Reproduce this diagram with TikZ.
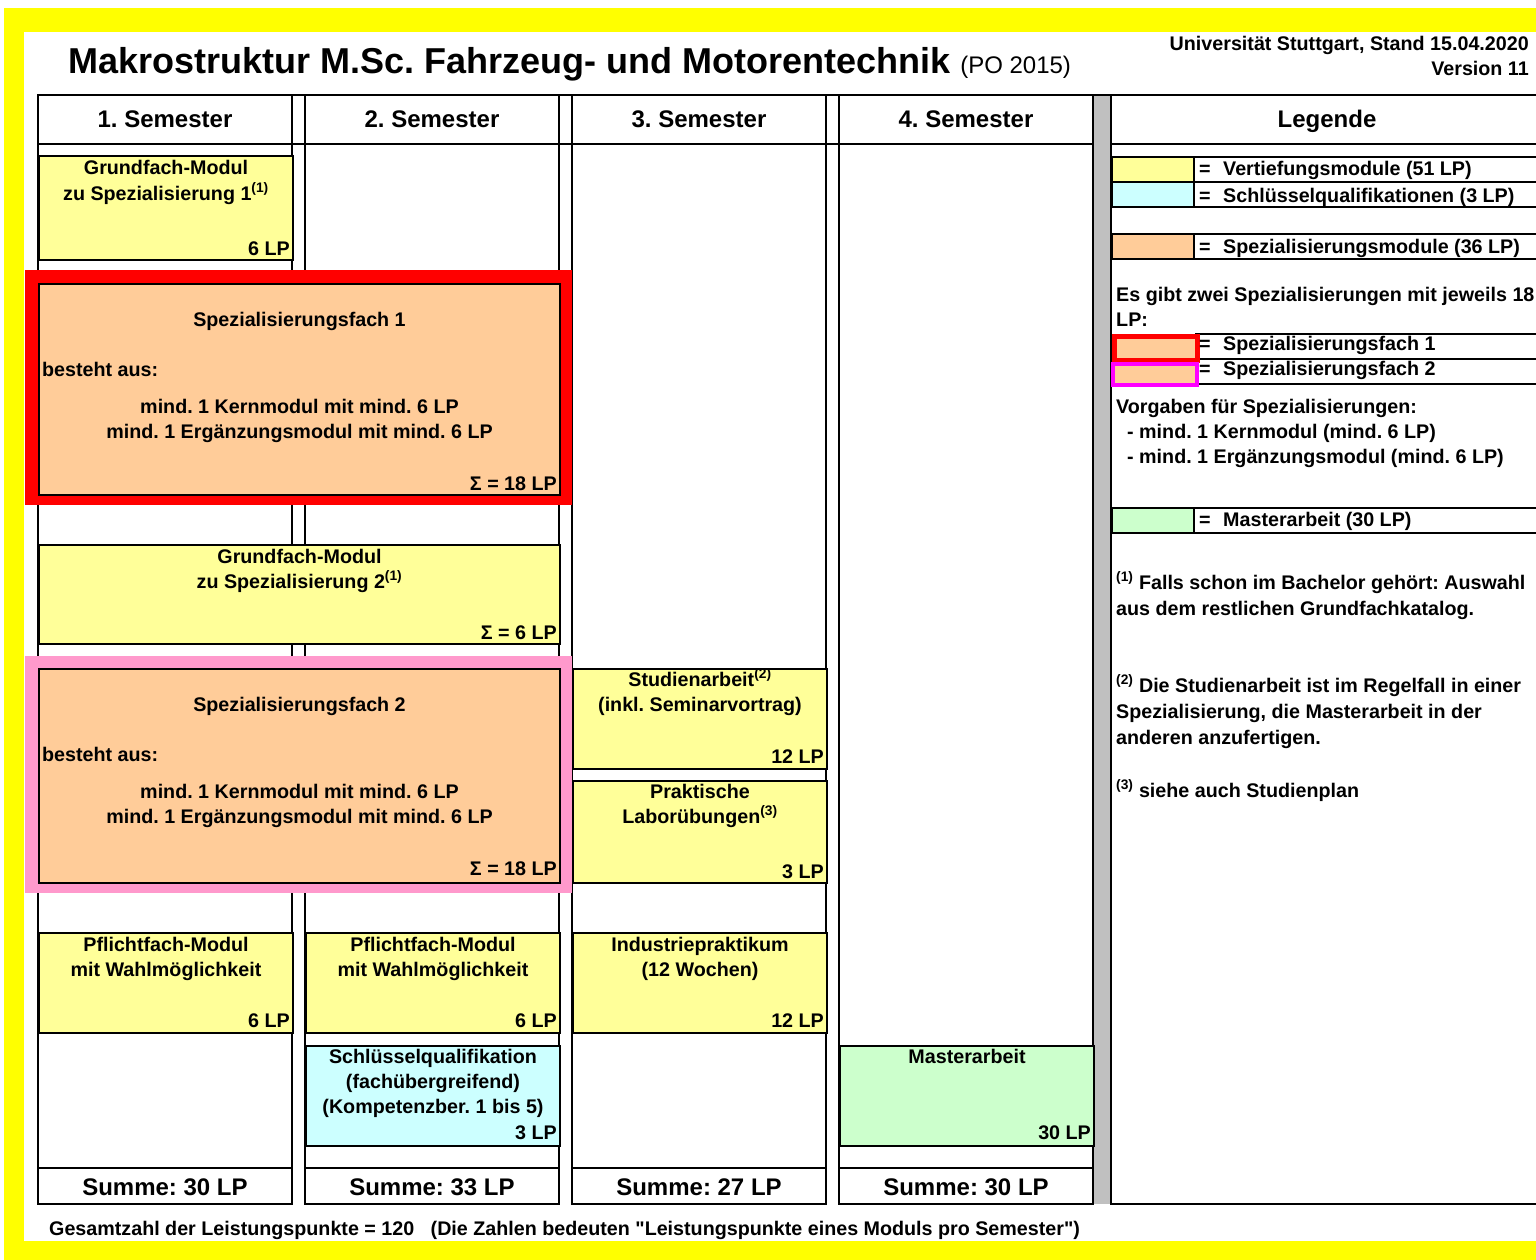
\documentclass[tikz,border=0pt]{standalone}
\usepackage{fontspec}
\setmainfont{Liberation Sans}
\usetikzlibrary{positioning}

\definecolor{frameyellow}{HTML}{FFFF00}
\definecolor{vmodcol}{HTML}{FFFF99}
\definecolor{smodcol}{HTML}{FFCC99}
\definecolor{sqcol}{HTML}{CCFFFF}
\definecolor{macol}{HTML}{CCFFCC}
\definecolor{sfonecol}{HTML}{FF0000}
\definecolor{sftwocol}{HTML}{FF99CC}
\definecolor{sftwoleg}{HTML}{FF00FF}
\definecolor{barcol}{HTML}{C0C0C0}

\frenchspacing
\newcommand{\fn}[1]{\textsuperscript{(#1)}}
% multi-line text, baseline on the first line
\newcommand{\clines}[1]{\begin{tabular}[t]{@{}c@{}}#1\end{tabular}}
\newcommand{\llines}[1]{\begin{tabular}[t]{@{}l@{}}#1\end{tabular}}

\tikzset{
    txt/.style={font=\fontsize{19.7}{25}\selectfont\bfseries, inner sep=0pt},
    head/.style={font=\fontsize{24}{28}\selectfont\bfseries, inner sep=0pt, anchor=base},
    mod/.style={draw, line width=2pt, inner sep=0pt, anchor=north west, minimum width=254, minimum height=100},
    vmod/.style={mod, fill=vmodcol},
    smod/.style={mod, fill=smodcol, minimum width=521},
    modname/.style={txt, anchor=base},
    modlp/.style={txt, anchor=base east},
    legtxt/.style={txt, anchor=base west},
    fntxt/.style={legtxt, font=\fontsize{19.7}{26}\selectfont\bfseries},
    legrow/.style={draw, line width=2pt, inner sep=0pt, anchor=north west, minimum width=400, minimum height=25},
    swatch/.style={draw, line width=2pt, inner sep=0pt, anchor=north west, minimum width=82, minimum height=25},
    hline/.style={line width=2pt},
}

\begin{document}
\begin{tikzpicture}[x=1pt, y=-1pt]
    \useasboundingbox (0,0) rectangle (1536,1260);

    % Frame
    \fill[frameyellow] (4,8) rectangle (1536,32);
    \fill[frameyellow] (4,8) rectangle (24,1260);
    \fill[frameyellow] (4,1241) rectangle (1536,1260);

    % Title
    \node[anchor=base west, inner sep=0pt] (title) at (68,74)
        {\fontsize{36}{40}\selectfont\bfseries Makrostruktur M.Sc. Fahrzeug- und Motorentechnik {\fontsize{24}{28}\selectfont\mdseries(PO 2015)}};
    \node[txt, anchor=base east] (stand)   at (1529,51) {Universität Stuttgart, Stand 15.04.2020};
    \node[txt, anchor=base east] (version) at (1529,76) {Version 11};

    % Semester columns
    \draw[hline] (38,95) -- (1536,95);
    \draw[hline] (38,144) -- (1536,144);
    \foreach \n/\x/\s in {1/38/30, 2/305/33, 3/572/27, 4/839/30} {
        \draw[hline] (\x,95) rectangle ++(254,1109);
        \draw[hline] (\x,1168) -- ++(254,0);
        \node[head] (sem\n) at (\x+127,128)  {\n. Semester};
        \node[head] (sum\n) at (\x+127,1195) {Summe: \s\ LP};
    }

    % Legend column
    \fill[barcol] (1093,96) rectangle (1111,1204);
    \draw[hline] (1093,95) -- (1093,1204);
    \draw[hline] (1111,95) -- (1111,1204) -- (1536,1204);
    \node[head] (legende) at (1327,128) {Legende};

    % Legend entries
    \node[legrow] (rowv)  at (1193,156) {};
    \node[legrow] (rowsq) at (1193,181) {};
    \node[legrow] (rows)  at (1193,233) {};
    \node[legrow] (rowsf1) at (1195,333) {};
    \node[legrow] (rowsf2) at (1195,358) {};
    \node[legrow] (rowma) at (1193,507) {};
    \node[swatch, fill=vmodcol] (swv)  at (1111,156) {};
    \node[swatch, fill=sqcol]   (swsq) at (1111,181) {};
    \node[swatch, fill=smodcol] (sws)  at (1111,233) {};
    \node[swatch, fill=smodcol, draw=sfonecol, line width=5pt, minimum width=83, minimum height=24] (swsf1) at (1111.5,333.5) {};
    \node[swatch, fill=smodcol, draw=sftwoleg, line width=4pt, minimum width=84, minimum height=21] (swsf2) at (1111,362) {};
    \node[swatch, fill=macol]   (swma) at (1111,507) {};
    \node[legtxt] (legv)   at (1199,176) {\makebox[24pt][l]{=}Vertiefungsmodule (51 LP)};
    \node[legtxt] (legsq)  at (1199,203) {\makebox[24pt][l]{=}Schlüsselqualifikationen (3 LP)};
    \node[legtxt] (legs)   at (1199,253) {\makebox[24pt][l]{=}Spezialisierungsmodule (36 LP)};
    \node[legtxt] (legsf1) at (1199,350) {\makebox[24pt][l]{=}Spezialisierungsfach 1};
    \node[legtxt] (legsf2) at (1199,375) {\makebox[24pt][l]{=}Spezialisierungsfach 2};
    \node[legtxt] (legma)  at (1199,526) {\makebox[24pt][l]{=}Masterarbeit (30 LP)};
    \node[legtxt] (zwei)   at (1116,301) {\llines{Es gibt zwei Spezialisierungen mit jeweils 18\\LP:}};
    \node[legtxt] (vorgaben) at (1116,413)
        {\llines{Vorgaben für Spezialisierungen:\\\hspace*{11pt}- mind. 1 Kernmodul (mind. 6 LP)\\\hspace*{11pt}- mind. 1 Ergänzungsmodul (mind. 6 LP)}};
    \node[fntxt] (fn1) at (1116,589)
        {\llines{\fn{1} Falls schon im Bachelor gehört: Auswahl\\aus dem restlichen Grundfachkatalog.}};
    \node[fntxt] (fn2) at (1116,692)
        {\llines{\fn{2} Die Studienarbeit ist im Regelfall in einer\\Spezialisierung, die Masterarbeit in der\\anderen anzufertigen.}};
    \node[fntxt] (fn3) at (1116,797) {\fn{3} siehe auch Studienplan};

    % Modules, semester 1 and 2
    \node[vmod, minimum height=104] (gm1) at (38,155) {};
    \node[modname] (gm1name) at ([yshift=-20pt]gm1.north) {\clines{Grundfach-Modul\\zu Spezialisierung 1\fn{1}}};
    \node[modlp]   (gm1lp)   at ([xshift=-4pt,yshift=6pt]gm1.south east) {6 LP};

    \node[fill=sfonecol, inner sep=0pt, anchor=north west, minimum width=547, minimum height=235] (sf1frame) at (25,270) {};
    \node[smod, minimum height=211] (sf1) at (38,283) {};
    \node[modname] (sf1name) at ([yshift=-43pt]sf1.north) {Spezialisierungsfach 1};
    \node[txt, anchor=base west] (sf1aus) at ([xshift=4pt,yshift=-93pt]sf1.north west) {besteht aus:};
    \node[modname] (sf1req)  at ([yshift=-130pt]sf1.north) {\clines{mind. 1 Kernmodul mit mind. 6 LP\\mind. 1 Ergänzungsmodul mit mind. 6 LP}};
    \node[modlp]   (sf1lp)   at ([xshift=-4pt,yshift=6pt]sf1.south east) {Σ = 18 LP};

    \node[vmod, minimum width=521, minimum height=99] (gm2) at (38,544) {};
    \node[modname] (gm2name) at ([yshift=-19pt]gm2.north) {\clines{Grundfach-Modul\\zu Spezialisierung 2\fn{1}}};
    \node[modlp]   (gm2lp)   at ([xshift=-4pt,yshift=6pt]gm2.south east) {Σ = 6 LP};

    \node[fill=sftwocol, inner sep=0pt, anchor=north west, minimum width=547, minimum height=237] (sf2frame) at (25,656) {};
    \node[smod, minimum height=214] (sf2) at (38,668) {};
    \node[modname] (sf2name) at ([yshift=-43pt]sf2.north) {Spezialisierungsfach 2};
    \node[txt, anchor=base west] (sf2aus) at ([xshift=4pt,yshift=-93pt]sf2.north west) {besteht aus:};
    \node[modname] (sf2req)  at ([yshift=-130pt]sf2.north) {\clines{mind. 1 Kernmodul mit mind. 6 LP\\mind. 1 Ergänzungsmodul mit mind. 6 LP}};
    \node[modlp]   (sf2lp)   at ([xshift=-4pt,yshift=9pt]sf2.south east) {Σ = 18 LP};

    \node[vmod] (pf1) at (38,932) {};
    \node[modname] (pf1name) at ([yshift=-19pt]pf1.north) {\clines{Pflichtfach-Modul\\mit Wahlmöglichkeit}};
    \node[modlp]   (pf1lp)   at ([xshift=-4pt,yshift=7pt]pf1.south east) {6 LP};

    \node[vmod] (pf2) at (305,932) {};
    \node[modname] (pf2name) at ([yshift=-19pt]pf2.north) {\clines{Pflichtfach-Modul\\mit Wahlmöglichkeit}};
    \node[modlp]   (pf2lp)   at ([xshift=-4pt,yshift=7pt]pf2.south east) {6 LP};

    \node[mod, fill=sqcol] (sq) at (305,1045) {};
    \node[modname] (sqname) at ([yshift=-18pt]sq.north) {\clines{Schlüsselqualifikation\\(fachübergreifend)\\(Kompetenzber. 1 bis 5)}};
    \node[modlp]   (sqlp)   at ([xshift=-4pt,yshift=8pt]sq.south east) {3 LP};

    % Modules, semester 3 and 4
    \node[vmod] (sa) at (572,668) {};
    \node[modname] (saname) at ([yshift=-18pt]sa.north) {\clines{Studienarbeit\fn{2}\\(inkl. Seminarvortrag)}};
    \node[modlp]   (salp)   at ([xshift=-4pt,yshift=7pt]sa.south east) {12 LP};

    \node[vmod, minimum height=102] (lab) at (572,780) {};
    \node[modname] (labname) at ([yshift=-18pt]lab.north) {\clines{Praktische\\Laborübungen\fn{3}}};
    \node[modlp]   (lablp)   at ([xshift=-4pt,yshift=6pt]lab.south east) {3 LP};

    \node[vmod] (ip) at (572,932) {};
    \node[modname] (ipname) at ([yshift=-19pt]ip.north) {\clines{Industriepraktikum\\(12 Wochen)}};
    \node[modlp]   (iplp)   at ([xshift=-4pt,yshift=7pt]ip.south east) {12 LP};

    \node[mod, fill=macol] (ma) at (839,1045) {};
    \node[modname] (maname) at ([yshift=-18pt]ma.north) {Masterarbeit};
    \node[modlp]   (malp)   at ([xshift=-4pt,yshift=8pt]ma.south east) {30 LP};

    % Footer
    \node[txt, anchor=base west] (gesamt) at (49,1235)
        {Gesamtzahl der Leistungspunkte = 120\ \ \ (Die Zahlen bedeuten \textquotedbl Leistungspunkte eines Moduls pro Semester\textquotedbl)};
\end{tikzpicture}
\end{document}
